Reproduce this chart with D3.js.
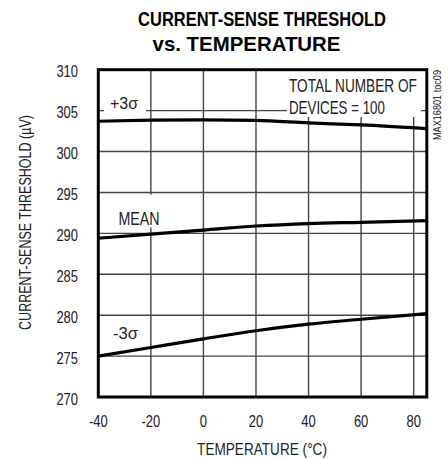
<!DOCTYPE html>
<html><head><meta charset="utf-8">
<script src="https://cdn.jsdelivr.net/npm/d3@7"></script>
<style>
body{margin:0;background:#fff;}
svg{display:block;}
text{font-family:"Liberation Sans",Arial,sans-serif;fill:#222;}
</style></head>
<body><svg id="c" width="448" height="459"></svg>
<script>
const temps = [-40, -20, 0, 20, 40, 60, 85];
const plus3Sigma = [303.7, 303.83, 303.87, 303.8, 303.5, 303.25, 302.8];
const meanVals = [289.4, 289.9, 290.4, 290.9, 291.2, 291.35, 291.55];
const minus3Sigma = [275.0, 276.05, 277.1, 278.1, 278.9, 279.5, 280.2];
const xTicks = [-40, -20, 0, 20, 40, 60, 80];
const yTicks = [270, 275, 280, 285, 290, 295, 300, 305, 310];

const svg = d3.select("#c");
const L = 98.3, R = 426.8, T = 69.7, B = 397;
const x = d3.scaleLinear().domain([-40, 85]).range([L, R]);
const y = d3.scaleLinear().domain([270, 310]).range([B, T]);

// place a horizontally condensed text: anchor point (px,py), rotation, target width
function ctext(str, px, py, size, width, opts){
  opts = opts || {};
  const g = svg.append("g");
  const t = g.append("text").attr("x",0).attr("y",0).style("font-size", size+"px").text(str);
  if (opts.bold) t.style("font-weight","bold");
  if (opts.fill) t.style("fill", opts.fill);
  const anchor = opts.anchor || "start";
  t.attr("text-anchor", anchor);
  const n = t.node().getComputedTextLength();
  const k = width / n;
  g.attr("transform", `translate(${px},${py})` + (opts.rot ? ` rotate(${opts.rot})` : "") + ` scale(${k},1)`);
  return g;
}

// title
ctext("CURRENT-SENSE THRESHOLD", 262, 26, 19.5, 248, {bold:true, fill:"#000", anchor:"middle"});
ctext("vs. TEMPERATURE", 246.5, 51, 19.5, 188, {bold:true, fill:"#000", anchor:"middle"});

// grid
const g = svg.append("g");
g.selectAll("line.h").data(yTicks.slice(1,-1)).join("line")
  .attr("x1", L).attr("x2", R).attr("y1", d=>y(d)).attr("y2", d=>y(d))
  .attr("stroke","#444").attr("stroke-width",1.4);
g.selectAll("line.v").data(xTicks.slice(1)).join("line")
  .attr("y1", T).attr("y2", B).attr("x1", d=>x(d)).attr("x2", d=>x(d))
  .attr("stroke","#444").attr("stroke-width",1.4);

// label backgrounds
svg.append("rect").attr("x",104).attr("y",95).attr("width",42).attr("height",17).attr("fill","#fff");
svg.append("rect").attr("x",116).attr("y",194.5).attr("width",45).attr("height",33).attr("fill","#fff");
svg.append("rect").attr("x",287).attr("y",71).attr("width",134).attr("height",46).attr("fill","#fff");

// in-plot labels
ctext("+3σ", 110, 109, 17, 28);
ctext("MEAN", 118.5, 225, 17.5, 41);
ctext("-3σ", 113, 339, 17, 25);
ctext("TOTAL NUMBER OF", 289, 92, 18, 128);
ctext("DEVICES = 100", 289, 113.5, 18, 96);

// curves
const line = d3.line().x((d,i)=>x(temps[i])).y(d=>y(d)).curve(d3.curveMonotoneX);
[plus3Sigma, meanVals, minus3Sigma].forEach(s=>{
  svg.append("path").attr("d", line(s)).attr("fill","none").attr("stroke","#000").attr("stroke-width",3.2);
});

// border
svg.append("rect").attr("x",L).attr("y",T).attr("width",R-L).attr("height",B-T)
  .attr("fill","none").attr("stroke","#000").attr("stroke-width",3);

// tick labels (condensed by 0.81)
const K = 0.81;
svg.selectAll("g.yt").data(yTicks).join("g").attr("class","yt")
  .attr("transform", d=>`translate(78,${y(d)+7.5}) scale(${K},1)`)
  .append("text").attr("text-anchor","end").style("font-size","16px").text(d=>d);
svg.selectAll("g.xt").data(xTicks).join("g").attr("class","xt")
  .attr("transform", d=>`translate(${x(d)},426.5) scale(${K},1)`)
  .append("text").attr("text-anchor","middle").style("font-size","16px").text(d=>d);

// axis titles
ctext("TEMPERATURE (°C)", 262, 455, 16.5, 130, {anchor:"middle"});
ctext("CURRENT-SENSE THRESHOLD (µV)", 31, 222.5, 16, 215, {anchor:"middle", rot:-90});
ctext("MAX16801 toc09", 441, 105, 10, 70, {anchor:"middle", rot:-90});
</script></body></html>
